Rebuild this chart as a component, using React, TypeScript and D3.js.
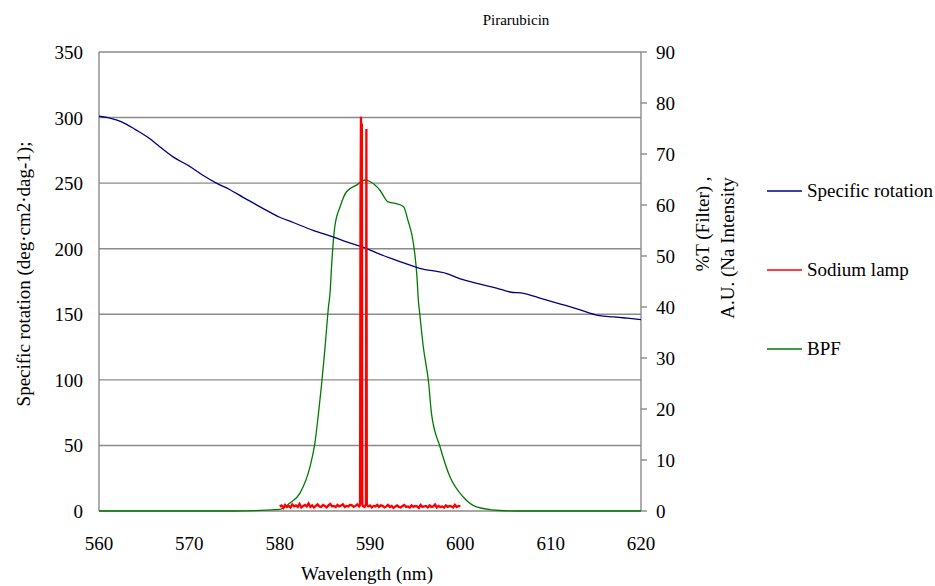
import React from "react";
import * as d3 from "d3";

// wavelength axis + tick labels
const xTicks = [560, 570, 580, 590, 600, 610, 620];
const leftTicks = [0, 50, 100, 150, 200, 250, 300, 350];
const rightTicks = [0, 10, 20, 30, 40, 50, 60, 70, 80, 90];

// specific rotation (left axis)
const rotWl = [560, 561, 562, 563, 564, 565.6, 566.5, 568.2, 570, 571.5, 573, 574.5, 576, 577.3, 578.6, 580, 581.5, 583.7, 585.9, 587.5, 589.3, 591, 593, 595.5, 598.5, 600, 602.2, 604, 605.5, 607, 609, 611, 613, 615.4, 617, 618.5, 620];
const rotVal = [301, 300, 298, 295, 291, 284, 279, 270, 263, 256, 250, 245, 239, 234, 229, 224, 220, 214, 209, 205, 201, 196, 191, 185, 181, 177, 173, 170, 167, 166, 162, 158, 154, 149, 148, 147, 146];

// sodium lamp (right axis) : background noise every 0.2 nm from 580 nm + the D-lines
const naStart = 580;
const naStep = 0.2;
const naNoise = [
  0.9, 1.1, 0.6, 1.2, 0.8, 1.0, 0.7, 1.3, 0.9, 1.1,
  0.8, 1.4, 0.7, 1.0, 1.2, 0.9, 1.5, 0.8, 1.1, 0.7,
  1.0, 1.3, 0.9, 0.8, 1.2, 1.0, 0.7, 1.1, 1.4, 0.9,
  1.0, 0.8, 1.2, 0.9, 1.1, 1.3, 0.8, 1.0, 0.9, 1.2,
  1.1, 0.8, 1.0, 1.3, 0.9, 1.7, 1.0, 0.8, 1.2, 0.9,
  1.1, 0.7, 1.0, 0.9, 1.2, 0.8, 1.1, 1.0, 0.7, 0.9,
  1.2, 0.8, 1.0, 0.6, 0.9, 1.1, 0.8, 0.7, 1.0, 1.2,
  0.8, 0.9, 0.7, 1.1, 0.8, 1.0, 0.9, 0.6, 1.2, 0.8,
  0.9, 1.0, 0.7, 1.1, 0.8, 0.9, 1.3, 0.7, 1.0, 0.8,
  0.9, 0.7, 1.1, 0.8, 1.0, 0.9, 0.7, 1.2, 0.8, 1.0, 0.9
];
const naPeakWl = [588.9, 588.95, 589.0, 589.05, 589.1, 589.15, 589.55, 589.6, 589.65];
const naPeakVal = [1.2, 60, 77.3, 72, 76, 1.5, 1.4, 74.9, 1.2];

// band pass filter %T (right axis)
const bpfWl = [560, 575, 580, 581.1, 582.25, 583.36, 583.9, 584.3, 584.65, 585.0, 585.4, 585.6, 585.7, 586.1, 586.7, 587.4, 588.5, 589.45, 590.0, 591.1, 592.0, 592.8, 593.7, 594.2, 594.8, 595.2, 595.35, 595.5, 595.9, 596.5, 596.8, 597.75, 598.85, 600.3, 601.8, 604.4, 607, 620];
const bpfVal = [0, 0, 0.3, 1.5, 3.5, 8.7, 13.3, 19.2, 25, 31.6, 40, 43.3, 46.6, 55.7, 59.7, 62.6, 63.9, 64.9, 64.6, 62.9, 60.6, 60.3, 59.7, 57, 52.5, 45.9, 41.4, 38.8, 32.2, 25, 19.2, 12.6, 6.7, 2.8, 0.8, 0.1, 0, 0];

const seriesNames = ["Specific rotation", "Sodium lamp", "BPF"];
const seriesColors = ["#000080", "#ff0000", "#007a00"];

const font = "Liberation Serif";
const grid = "#8a8a8a";

export default function App() {
  const plot = { left: 99, right: 641, top: 52, bottom: 511 };

  const x = d3.scaleLinear().domain([560, 620]).range([plot.left, plot.right]);
  const yL = d3.scaleLinear().domain([0, 350]).range([plot.bottom, plot.top]);
  const yR = d3.scaleLinear().domain([0, 90]).range([plot.bottom, plot.top]);

  const rotPts = rotWl.map((w, i) => [w, rotVal[i]] as [number, number]);
  const bpfPts = bpfWl.map((w, i) => [w, bpfVal[i]] as [number, number]);

  const inPeak = (w: number) => (w > 588.85 && w < 589.2) || (w > 589.5 && w < 589.7);
  const naPts = naNoise
    .map((v, i) => [naStart + i * naStep, v] as [number, number])
    .filter((p) => !inPeak(p[0]))
    .concat(naPeakWl.map((w, i) => [w, naPeakVal[i]] as [number, number]))
    .sort((a, b) => a[0] - b[0]);

  const lineL = d3.line<[number, number]>().x((d) => x(d[0])).y((d) => yL(d[1])).curve(d3.curveMonotoneX);
  const lineR = d3.line<[number, number]>().x((d) => x(d[0])).y((d) => yR(d[1])).curve(d3.curveMonotoneX);
  const lineNa = d3.line<[number, number]>().x((d) => x(d[0])).y((d) => yR(d[1]));

  const legendY = [191, 270, 349];

  return (
    <svg width={935} height={586} style={{ position: "absolute", left: 0, top: 0, background: "white" }}>
      <g fontFamily={font}>
      {/* gridlines */}
      {leftTicks.slice(1).map((t) => (
        <line key={`g${t}`} x1={plot.left} x2={plot.right} y1={yL(t)} y2={yL(t)} stroke={grid} strokeWidth={1.4} />
      ))}
      {/* axis lines */}
      <line x1={plot.left} x2={plot.left} y1={plot.top} y2={plot.bottom} stroke={grid} strokeWidth={1.4} />
      <line x1={plot.right} x2={plot.right} y1={plot.top} y2={plot.bottom} stroke={grid} strokeWidth={1.4} />
      <line x1={plot.left} x2={plot.right} y1={plot.bottom} y2={plot.bottom} stroke={grid} strokeWidth={1.4} />
      {rightTicks.map((t) => (
        <line key={`rt${t}`} x1={plot.right} x2={plot.right + 6} y1={yR(t)} y2={yR(t)} stroke={grid} strokeWidth={1.4} />
      ))}

      {/* series */}
      <path d={lineR(bpfPts) || ""} fill="none" stroke={seriesColors[2]} strokeWidth={1.3} />
      <path d={lineL(rotPts) || ""} fill="none" stroke={seriesColors[0]} strokeWidth={1.3} />
      <path d={lineNa(naPts) || ""} fill="none" stroke={seriesColors[1]} strokeWidth={2.3} />

      {/* tick labels */}
      {leftTicks.map((t) => (
        <text key={`lt${t}`} x={83} y={yL(t) + 7} fontSize={19} textAnchor="end">{t}</text>
      ))}
      {rightTicks.map((t) => (
        <text key={`rl${t}`} x={656} y={yR(t) + 7} fontSize={19}>{t}</text>
      ))}
      {xTicks.map((t) => (
        <text key={`xt${t}`} x={x(t)} y={550} fontSize={19} textAnchor="middle">{t}</text>
      ))}

      {/* titles */}
      <text x={516} y={25} fontSize={15} textAnchor="middle">Pirarubicin</text>
      <text x={367} y={580} fontSize={19} textAnchor="middle">Wavelength (nm)</text>
      <text transform="translate(30,274) rotate(-90)" fontSize={19} textAnchor="middle">
        Specific rotation (deg·cm2·dag-1);
      </text>
      <text transform="translate(709,224) rotate(-90)" fontSize={19} textAnchor="middle">%T (Filter) ,</text>
      <text transform="translate(734,248) rotate(-90)" fontSize={19} textAnchor="middle">A.U. (Na Intensity</text>

      {/* legend */}
      {seriesNames.map((name, i) => (
        <g key={name}>
          <line x1={767} x2={802} y1={legendY[i]} y2={legendY[i]} stroke={seriesColors[i]} strokeWidth={1.5} />
          <text x={807} y={legendY[i] + 6} fontSize={19}>{name}</text>
        </g>
      ))}
      </g>
    </svg>
  );
}
